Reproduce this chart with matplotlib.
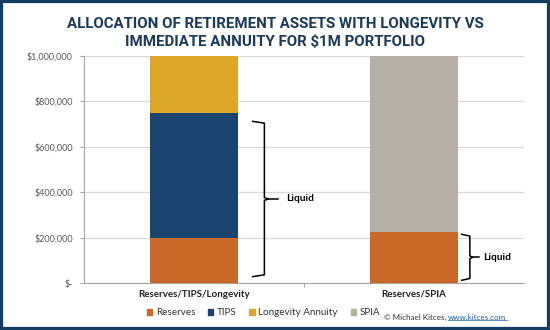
import matplotlib
matplotlib.use("Agg")
import matplotlib.pyplot as plt
from matplotlib.patches import Patch, Rectangle
from matplotlib.lines import Line2D

plt.rcParams['font.family'] = ['Lato', 'DejaVu Sans']

categories = ["Reserves/TIPS/Longevity", "Reserves/SPIA"]
reserves = [200000, 225000]
tips = [550000, 0]
longevity = [250000, 0]
spia = [0, 775000]
yticks = [0, 200000, 400000, 600000, 800000, 1000000]
ytick_labels = ["\\$-", "\\$200,000", "\\$400,000", "\\$600,000", "\\$800,000", "\\$1,000,000"]

c_res = "#C8692A"
c_tips = "#1B4570"
c_long = "#DDA82A"
c_spia = "#B5AFA6"
navy = "#1B3A5C"

fig = plt.figure(figsize=(5.5, 3.3), dpi=100)
ax = fig.add_axes([0.1527, 0.141, 0.8, 0.690])

x = [0, 1]
w = 0.4
ax.bar(x, reserves, w, color=c_res, zorder=3)
ax.bar(x, tips, w, bottom=reserves, color=c_tips, zorder=3)
b2 = [r + t for r, t in zip(reserves, tips)]
ax.bar(x, longevity, w, bottom=b2, color=c_long, zorder=3)
ax.bar(x, spia, w, bottom=reserves, color=c_spia, zorder=3)

ax.set_xlim(-0.5, 1.5)
ax.set_ylim(0, 1000000)
ax.set_yticks(yticks)
ax.set_yticklabels(ytick_labels, fontsize=6.5, color="#595959")
ax.set_xticks([0.5])
ax.set_xticklabels([""])
ax.tick_params(axis='x', length=3, color="#A6A6A6")
ax.tick_params(axis='y', length=3, color="#A6A6A6", pad=5)
for i, c in enumerate(categories):
    ax.text(i, -28000, c, ha='center', va='top', fontsize=7, fontweight='bold', color="#222222")
ax.yaxis.grid(True, color="#D9D9D9", linewidth=0.9, zorder=0)
for s in ['top', 'right']:
    ax.spines[s].set_visible(False)
ax.spines['left'].set_color("#A6A6A6")
ax.spines['bottom'].set_color("#A6A6A6")


def brace(xv, y0, y1, hook, tip):
    ym = (y0 + y1) / 2
    ax.plot([xv - hook, xv, xv, xv + tip * 0.3, xv, xv, xv - hook],
            [y1, y1 - 8000, ym + 6000, ym, ym - 6000, y0 + 8000, y0],
            color="black", lw=1.1, zorder=4, solid_joinstyle='round')
    ax.plot([xv + tip * 0.3, xv + tip], [ym, ym], color="black", lw=1.1, zorder=4)


brace(0.32, 30000, 712000, 0.053, 0.06)
ax.text(0.42, 371000, "Liquid", fontsize=7.3, fontweight='bold', va='center', ha='left')
brace(1.254, 14000, 216000, 0.037, 0.043)
ax.text(1.314, 116000, "Liquid", fontsize=7.3, fontweight='bold', va='center', ha='left')

fig.text(0.5, 0.95, "ALLOCATION OF RETIREMENT ASSETS WITH LONGEVITY VS\nIMMEDIATE ANNUITY FOR $1M PORTFOLIO",
         ha='center', va='top', fontsize=10.8, fontweight='bold', color=navy,
         family=['Roboto', 'DejaVu Sans'], linespacing=1.45)

handles = [Patch(color=c_res), Patch(color=c_tips), Patch(color=c_long), Patch(color=c_spia)]
fig.legend(handles, ["Reserves", "TIPS", "Longevity Annuity", "SPIA"], loc='center',
           bbox_to_anchor=(0.479, 0.052), ncol=4, frameon=False, fontsize=7.1,
           handlelength=0.55, handleheight=0.55, handletextpad=0.35, columnspacing=1.3,
           labelcolor="#333333")

t1 = fig.text(0.698, 0.039, "\u00a9 Michael Kitces, ", fontsize=5.8, color="#333333", va='center', ha='left')
fig.canvas.draw()
r = fig.canvas.get_renderer()
bb = t1.get_window_extent(r)
x2 = bb.x1 / fig.bbox.width
t2 = fig.text(x2, 0.039, "www.kitces.com", fontsize=5.8, color="#1F5FA8", va='center', ha='left')
bb2 = t2.get_window_extent(r)
fig.add_artist(Line2D([bb2.x0 / fig.bbox.width, bb2.x1 / fig.bbox.width],
                      [(bb2.y0 + 1) / fig.bbox.height] * 2, color="#1F5FA8", lw=0.5))

fig.add_artist(Rectangle((0, 0), 1, 1, transform=fig.transFigure, fill=False,
                         edgecolor="#153D63", lw=4.5))

fig.savefig("out.png", dpi=100)
